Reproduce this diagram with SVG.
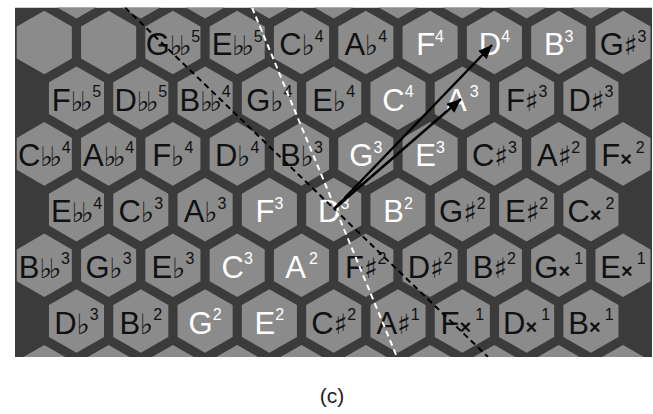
<svg xmlns="http://www.w3.org/2000/svg" xmlns:xlink="http://www.w3.org/1999/xlink" width="653" height="414" viewBox="0 0 653 414">
<style>
.hex{fill:#8b8b8b}
.t{font-family:"Liberation Sans",Arial,sans-serif;font-size:31px;fill:#111;text-anchor:middle}
.w{fill:#fff}
.fl{font-family:"DejaVu Sans",sans-serif;font-size:28px}
.dfl{font-family:"DejaVu Sans",sans-serif;font-size:27px;letter-spacing:-3.5px}
.sh{font-family:"DejaVu Sans",sans-serif;font-size:28px}
.x{font-family:"Liberation Sans",Arial,sans-serif;font-size:20px;font-weight:bold}
.s{font-size:16px}
.cap{font-family:"Liberation Sans",Arial,sans-serif;font-size:21px;fill:#222;text-anchor:middle}
</style>
<defs>
<polygon id="hx" class="hex" points="0,-31.8 27.54,-15.9 27.54,15.9 0,31.8 -27.54,15.9 -27.54,-15.9"/>
<clipPath id="clip"><rect x="15" y="7.5" width="637" height="349.5"/></clipPath>
<marker id="ah" markerUnits="userSpaceOnUse" markerWidth="16" markerHeight="12" refX="14" refY="6" orient="auto"><path d="M0,0 L14,6 L0,12 z" fill="#000"/></marker>
</defs>
<g clip-path="url(#clip)">
<rect x="15" y="7.5" width="637" height="349.5" fill="#3b3b3b"/>
<g id="partial">
<use xlink:href="#hx" x="76.5" y="-13.2"/><use xlink:href="#hx" x="140.8" y="-13.2"/><use xlink:href="#hx" x="205.1" y="-13.2"/><use xlink:href="#hx" x="269.4" y="-13.2"/><use xlink:href="#hx" x="333.7" y="-13.2"/><use xlink:href="#hx" x="398" y="-13.2"/><use xlink:href="#hx" x="462.3" y="-13.2"/><use xlink:href="#hx" x="526.6" y="-13.2"/><use xlink:href="#hx" x="590.9" y="-13.2"/>
<use xlink:href="#hx" x="44.3" y="376.7"/><use xlink:href="#hx" x="108.6" y="376.7"/><use xlink:href="#hx" x="172.9" y="376.7"/><use xlink:href="#hx" x="237.2" y="376.7"/><use xlink:href="#hx" x="301.5" y="376.7"/><use xlink:href="#hx" x="365.8" y="376.7"/><use xlink:href="#hx" x="430.1" y="376.7"/><use xlink:href="#hx" x="494.4" y="376.7"/><use xlink:href="#hx" x="558.7" y="376.7"/><use xlink:href="#hx" x="623" y="376.7"/>
</g>
<!-- row 1 -->
<g id="r1c0" transform="translate(44.3,42.5)"><use xlink:href="#hx"/></g>
<g id="r1c1" transform="translate(108.6,42.5)"><use xlink:href="#hx"/></g>
<g id="Gbb5" transform="translate(172.9,42.5)"><use xlink:href="#hx"/><text class="t" y="12.5">G<tspan class="dfl">♭♭</tspan><tspan class="s" dy="-13.5" dx="3">5</tspan></text></g>
<g id="Ebb5" transform="translate(237.2,42.5)"><use xlink:href="#hx"/><text class="t" y="12.5">E<tspan class="dfl">♭♭</tspan><tspan class="s" dy="-13.5" dx="3">5</tspan></text></g>
<g id="Cb4" transform="translate(301.5,42.5)"><use xlink:href="#hx"/><text class="t" y="12.5">C<tspan class="fl">♭</tspan><tspan class="s" dy="-13.5">4</tspan></text></g>
<g id="Ab4" transform="translate(365.8,42.5)"><use xlink:href="#hx"/><text class="t" y="12.5">A<tspan class="fl">♭</tspan><tspan class="s" dy="-13.5">4</tspan></text></g>
<g id="F4" transform="translate(430.1,42.5)"><use xlink:href="#hx"/><text class="t w" y="12.5">F<tspan class="s" dy="-13.5">4</tspan></text></g>
<g id="D4" transform="translate(494.4,42.5)"><use xlink:href="#hx"/><text class="t w" y="12.5">D<tspan class="s" dy="-13.5">4</tspan></text></g>
<g id="B3" transform="translate(558.7,42.5)"><use xlink:href="#hx"/><text class="t w" y="12.5">B<tspan class="s" dy="-13.5">3</tspan></text></g>
<g id="Gs3" transform="translate(623,42.5)"><use xlink:href="#hx"/><text class="t" y="12.5">G<tspan class="sh">♯</tspan><tspan class="s" dy="-13.5">3</tspan></text></g>
<!-- row 2 -->
<g id="Fbb5" transform="translate(76.5,98.2)"><use xlink:href="#hx"/><text class="t" y="12.5">F<tspan class="dfl">♭♭</tspan><tspan class="s" dy="-13.5" dx="3">5</tspan></text></g>
<g id="Dbb5" transform="translate(140.8,98.2)"><use xlink:href="#hx"/><text class="t" y="12.5">D<tspan class="dfl">♭♭</tspan><tspan class="s" dy="-13.5" dx="3">5</tspan></text></g>
<g id="Bbb4" transform="translate(205.1,98.2)"><use xlink:href="#hx"/><text class="t" y="12.5">B<tspan class="dfl">♭♭</tspan><tspan class="s" dy="-13.5" dx="3">4</tspan></text></g>
<g id="Gb4" transform="translate(269.4,98.2)"><use xlink:href="#hx"/><text class="t" y="12.5">G<tspan class="fl">♭</tspan><tspan class="s" dy="-13.5">4</tspan></text></g>
<g id="Eb4" transform="translate(333.7,98.2)"><use xlink:href="#hx"/><text class="t" y="12.5">E<tspan class="fl">♭</tspan><tspan class="s" dy="-13.5">4</tspan></text></g>
<g id="C4" transform="translate(398,98.2)"><use xlink:href="#hx"/><text class="t w" y="12.5">C<tspan class="s" dy="-13.5">4</tspan></text></g>
<g id="A3" transform="translate(462.3,98.2)"><use xlink:href="#hx"/><text class="t w" y="12.5">A<tspan class="s" dy="-13.5" dx="3">3</tspan></text></g>
<g id="Fs3" transform="translate(526.6,98.2)"><use xlink:href="#hx"/><text class="t" y="12.5">F<tspan class="sh">♯</tspan><tspan class="s" dy="-13.5">3</tspan></text></g>
<g id="Ds3" transform="translate(590.9,98.2)"><use xlink:href="#hx"/><text class="t" y="12.5">D<tspan class="sh">♯</tspan><tspan class="s" dy="-13.5">3</tspan></text></g>
<!-- row 3 -->
<g id="Cbb4" transform="translate(44.3,153.9)"><use xlink:href="#hx"/><text class="t" y="12.5">C<tspan class="dfl">♭♭</tspan><tspan class="s" dy="-13.5" dx="3">4</tspan></text></g>
<g id="Abb4" transform="translate(108.6,153.9)"><use xlink:href="#hx"/><text class="t" y="12.5">A<tspan class="dfl">♭♭</tspan><tspan class="s" dy="-13.5" dx="3">4</tspan></text></g>
<g id="Fb4" transform="translate(172.9,153.9)"><use xlink:href="#hx"/><text class="t" y="12.5">F<tspan class="fl">♭</tspan><tspan class="s" dy="-13.5">4</tspan></text></g>
<g id="Db4" transform="translate(237.2,153.9)"><use xlink:href="#hx"/><text class="t" y="12.5">D<tspan class="fl">♭</tspan><tspan class="s" dy="-13.5">4</tspan></text></g>
<g id="Bb3" transform="translate(301.5,153.9)"><use xlink:href="#hx"/><text class="t" y="12.5">B<tspan class="fl">♭</tspan><tspan class="s" dy="-13.5">3</tspan></text></g>
<g id="G3" transform="translate(365.8,153.9)"><use xlink:href="#hx"/><text class="t w" y="12.5">G<tspan class="s" dy="-13.5">3</tspan></text></g>
<g id="E3" transform="translate(430.1,153.9)"><use xlink:href="#hx"/><text class="t w" y="12.5">E<tspan class="s" dy="-13.5">3</tspan></text></g>
<g id="Cs3" transform="translate(494.4,153.9)"><use xlink:href="#hx"/><text class="t" y="12.5">C<tspan class="sh">♯</tspan><tspan class="s" dy="-13.5">3</tspan></text></g>
<g id="As2" transform="translate(558.7,153.9)"><use xlink:href="#hx"/><text class="t" y="12.5">A<tspan class="sh">♯</tspan><tspan class="s" dy="-13.5">2</tspan></text></g>
<g id="Fx2" transform="translate(623,153.9)"><use xlink:href="#hx"/><text class="t" y="12.5">F<tspan class="x">×</tspan><tspan class="s" dy="-13.5" dx="4">2</tspan></text></g>
<!-- row 4 -->
<g id="Ebb4" transform="translate(76.5,209.6)"><use xlink:href="#hx"/><text class="t" y="12.5">E<tspan class="dfl">♭♭</tspan><tspan class="s" dy="-13.5" dx="3">4</tspan></text></g>
<g id="Cb3" transform="translate(140.8,209.6)"><use xlink:href="#hx"/><text class="t" y="12.5">C<tspan class="fl">♭</tspan><tspan class="s" dy="-13.5">3</tspan></text></g>
<g id="Ab3" transform="translate(205.1,209.6)"><use xlink:href="#hx"/><text class="t" y="12.5">A<tspan class="fl">♭</tspan><tspan class="s" dy="-13.5">3</tspan></text></g>
<g id="F3" transform="translate(269.4,209.6)"><use xlink:href="#hx"/><text class="t w" y="12.5">F<tspan class="s" dy="-13.5">3</tspan></text></g>
<g id="D3" transform="translate(333.7,209.6)"><use xlink:href="#hx"/><text class="t w" y="12.5">D<tspan class="s" dy="-13.5">3</tspan></text></g>
<g id="B2" transform="translate(398,209.6)"><use xlink:href="#hx"/><text class="t w" y="12.5">B<tspan class="s" dy="-13.5">2</tspan></text></g>
<g id="Gs2" transform="translate(462.3,209.6)"><use xlink:href="#hx"/><text class="t" y="12.5">G<tspan class="sh">♯</tspan><tspan class="s" dy="-13.5">2</tspan></text></g>
<g id="Es2" transform="translate(526.6,209.6)"><use xlink:href="#hx"/><text class="t" y="12.5">E<tspan class="sh">♯</tspan><tspan class="s" dy="-13.5">2</tspan></text></g>
<g id="Cx2" transform="translate(590.9,209.6)"><use xlink:href="#hx"/><text class="t" y="12.5">C<tspan class="x">×</tspan><tspan class="s" dy="-13.5" dx="4">2</tspan></text></g>
<!-- row 5 -->
<g id="Bbb3" transform="translate(44.3,265.3)"><use xlink:href="#hx"/><text class="t" y="12.5">B<tspan class="dfl">♭♭</tspan><tspan class="s" dy="-13.5" dx="3">3</tspan></text></g>
<g id="Gb3" transform="translate(108.6,265.3)"><use xlink:href="#hx"/><text class="t" y="12.5">G<tspan class="fl">♭</tspan><tspan class="s" dy="-13.5">3</tspan></text></g>
<g id="Eb3" transform="translate(172.9,265.3)"><use xlink:href="#hx"/><text class="t" y="12.5">E<tspan class="fl">♭</tspan><tspan class="s" dy="-13.5">3</tspan></text></g>
<g id="C3" transform="translate(237.2,265.3)"><use xlink:href="#hx"/><text class="t w" y="12.5">C<tspan class="s" dy="-13.5">3</tspan></text></g>
<g id="A2" transform="translate(301.5,265.3)"><use xlink:href="#hx"/><text class="t w" y="12.5">A<tspan class="s" dy="-13.5" dx="3">2</tspan></text></g>
<g id="Fs2" transform="translate(365.8,265.3)"><use xlink:href="#hx"/><text class="t" y="12.5">F<tspan class="sh">♯</tspan><tspan class="s" dy="-13.5">2</tspan></text></g>
<g id="Ds2" transform="translate(430.1,265.3)"><use xlink:href="#hx"/><text class="t" y="12.5">D<tspan class="sh">♯</tspan><tspan class="s" dy="-13.5">2</tspan></text></g>
<g id="Bs2" transform="translate(494.4,265.3)"><use xlink:href="#hx"/><text class="t" y="12.5">B<tspan class="sh">♯</tspan><tspan class="s" dy="-13.5">2</tspan></text></g>
<g id="Gx1" transform="translate(558.7,265.3)"><use xlink:href="#hx"/><text class="t" y="12.5">G<tspan class="x">×</tspan><tspan class="s" dy="-13.5" dx="4">1</tspan></text></g>
<g id="Ex1" transform="translate(623,265.3)"><use xlink:href="#hx"/><text class="t" y="12.5">E<tspan class="x">×</tspan><tspan class="s" dy="-13.5" dx="4">1</tspan></text></g>
<!-- row 6 -->
<g id="Db3" transform="translate(76.5,321)"><use xlink:href="#hx"/><text class="t" y="12.5">D<tspan class="fl">♭</tspan><tspan class="s" dy="-13.5">3</tspan></text></g>
<g id="Bb2" transform="translate(140.8,321)"><use xlink:href="#hx"/><text class="t" y="12.5">B<tspan class="fl">♭</tspan><tspan class="s" dy="-13.5">2</tspan></text></g>
<g id="G2" transform="translate(205.1,321)"><use xlink:href="#hx"/><text class="t w" y="12.5">G<tspan class="s" dy="-13.5">2</tspan></text></g>
<g id="E2" transform="translate(269.4,321)"><use xlink:href="#hx"/><text class="t w" y="12.5">E<tspan class="s" dy="-13.5">2</tspan></text></g>
<g id="Cs2" transform="translate(333.7,321)"><use xlink:href="#hx"/><text class="t" y="12.5">C<tspan class="sh">♯</tspan><tspan class="s" dy="-13.5">2</tspan></text></g>
<g id="As1" transform="translate(398,321)"><use xlink:href="#hx"/><text class="t" y="12.5">A<tspan class="sh">♯</tspan><tspan class="s" dy="-13.5">1</tspan></text></g>
<g id="Fx1" transform="translate(462.3,321)"><use xlink:href="#hx"/><text class="t" y="12.5">F<tspan class="x">×</tspan><tspan class="s" dy="-13.5" dx="4">1</tspan></text></g>
<g id="Dx1" transform="translate(526.6,321)"><use xlink:href="#hx"/><text class="t" y="12.5">D<tspan class="x">×</tspan><tspan class="s" dy="-13.5" dx="4">1</tspan></text></g>
<g id="Bx1" transform="translate(590.9,321)"><use xlink:href="#hx"/><text class="t" y="12.5">B<tspan class="x">×</tspan><tspan class="s" dy="-13.5" dx="4">1</tspan></text></g>
<g id="connectors">
<line x1="125" y1="7.5" x2="488" y2="357" stroke="#000" stroke-width="2" stroke-dasharray="6,4"/>
<line x1="252" y1="7.5" x2="397" y2="357" stroke="#fff" stroke-width="2" stroke-dasharray="6,4"/>
<line x1="334" y1="209" x2="492" y2="45" stroke="#000" stroke-width="2.5" marker-end="url(#ah)"/>
<line x1="334" y1="209" x2="461" y2="99" stroke="#000" stroke-width="2.5" marker-end="url(#ah)"/>
</g>
</g>
<text class="cap" x="332" y="403">(c)</text>
</svg>
